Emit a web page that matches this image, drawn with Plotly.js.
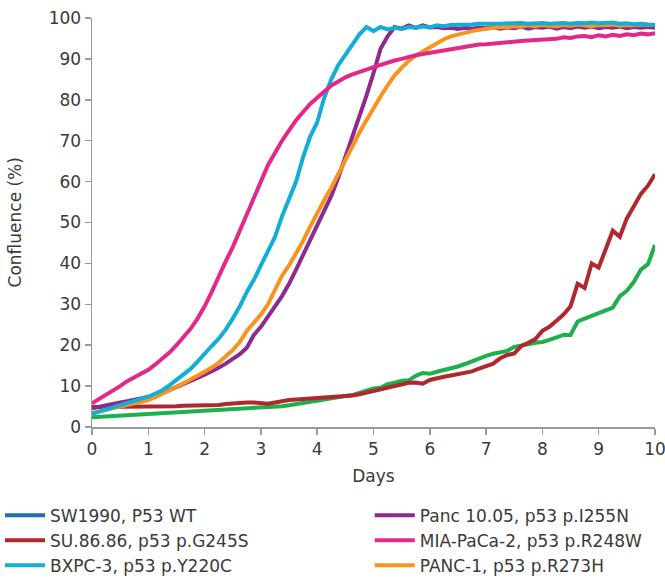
<!DOCTYPE html>
<html>
<head>
<meta charset="utf-8">
<script src="https://cdn.plot.ly/plotly-3.0.1.min.js"></script>
<style>html,body{margin:0;padding:0;background:#fff;}#chart{width:665px;height:579px;}</style>
</head>
<body>
<div id="chart"></div>
<script>
// Days: 0 to 10 in steps of 0.125 (81 readings)
const days = [];
for (let i = 0; i <= 80; i++) days.push(i / 8);

const seriesNames = [
  "SW1990, P53 WT",
  "SU.86.86, p53 p.G245S",
  "BXPC-3, p53 p.Y220C",
  "Panc 10.05, p53 p.I255N",
  "MIA-PaCa-2, p53 p.R248W",
  "PANC-1, p53 p.R273H"
];
const xTitle = "Days";
const yTitle = "Confluence (%)";

const sw1990 = [2.4,2.5,2.6,2.7,2.8,2.8,2.9,3.0,3.0,3.1,3.2,3.3,3.4,3.5,3.6,3.7,3.8,3.9,4.0,4.1,4.3,4.4,4.6,4.7,4.8,4.9,5.0,5.1,5.3,5.6,5.9,6.2,6.6,6.9,7.2,7.4,7.6,7.8,8.3,9.0,9.4,9.6,10.5,10.8,11.3,11.4,12.5,13.2,13.0,13.5,13.9,14.3,14.8,15.4,16.1,16.8,17.4,17.9,18.2,18.6,19.6,19.8,20.2,20.6,20.8,21.3,21.8,22.5,22.5,25.8,26.5,27.2,27.8,28.4,29.2,32.0,33.3,35.5,38.5,39.8,44.5];

const su8686 = [4.9,4.9,5.0,5.0,5.0,5.0,5.0,5.0,5.0,5.0,5.0,5.1,5.1,5.2,5.2,5.2,5.3,5.3,5.4,5.6,5.8,5.9,6.0,6.0,5.9,5.7,6.0,6.4,6.6,6.7,6.8,6.9,7.0,7.1,7.3,7.4,7.5,7.7,8.0,8.4,8.8,9.1,9.5,9.9,10.3,10.8,10.9,10.6,11.5,12.0,12.3,12.6,13.0,13.3,13.6,14.3,15.0,15.5,16.8,17.6,18.0,19.8,20.6,21.5,23.5,24.5,26.0,27.5,29.5,35.0,34.0,40.0,39.0,43.5,48.0,46.5,51.0,54.0,57.0,59.0,61.8];

const bxpc3 = [3.2,3.7,4.2,4.7,5.2,5.8,6.3,6.8,7.4,8.2,9.0,10.2,11.5,12.8,14.2,16.0,18.0,19.8,21.6,23.8,26.5,29.5,33.0,36.0,39.5,43.0,46.5,51.5,56.0,60.0,66.0,71.0,74.5,80.5,85.0,88.5,91.0,93.5,96.0,97.8,96.8,97.8,97.2,97.6,97.3,97.8,97.6,97.9,97.7,98.2,98.0,98.3,98.3,98.5,98.4,98.6,98.5,98.6,98.6,98.7,98.6,98.8,98.6,98.7,98.8,98.6,98.7,98.8,98.6,98.8,98.7,98.9,98.7,98.8,98.9,98.6,98.7,98.5,98.6,98.4,98.3];

const panc1005 = [4.6,5.0,5.3,5.7,6.0,6.3,6.6,6.9,7.2,7.7,8.3,9.0,9.8,10.6,11.3,12.0,12.8,13.6,14.5,15.5,16.6,17.8,19.4,22.5,24.5,26.8,29.5,32.0,35.0,38.5,42.0,46.0,49.5,52.5,56.5,61.0,66.0,70.5,76.0,81.0,86.5,92.5,95.5,97.8,97.4,98.2,97.6,98.2,97.7,97.8,97.5,97.6,97.3,97.6,97.4,97.6,97.5,97.8,97.4,97.7,97.5,97.9,97.4,97.8,97.6,97.9,97.4,97.8,97.5,97.9,97.6,97.9,97.5,97.8,97.6,97.9,97.5,97.8,97.6,97.8,97.6];

const miaPaCa2 = [5.8,6.8,7.8,8.8,10.0,11.2,12.2,13.1,14.0,15.3,16.6,18.2,20.0,22.0,24.0,26.5,29.5,33.0,37.0,40.5,44.0,48.0,52.0,56.5,60.5,64.0,67.0,70.0,72.5,75.0,77.0,79.0,80.5,82.0,83.5,84.5,85.5,86.2,86.9,87.4,88.0,88.6,89.2,89.6,90.0,90.5,90.9,91.2,91.5,91.8,92.1,92.3,92.6,93.0,93.1,93.5,93.6,93.8,94.0,94.0,94.3,94.4,94.5,94.6,94.9,95.0,94.9,95.3,95.1,95.5,95.6,95.3,95.8,95.5,95.9,95.6,96.0,95.8,96.2,96.0,96.3];

const panc1 = [3.4,3.8,4.2,4.6,5.0,5.4,5.8,6.2,6.6,7.3,8.1,8.9,9.8,10.7,11.6,12.5,13.4,14.5,15.7,17.2,18.8,20.8,23.5,25.5,27.5,30.0,33.5,37.0,39.5,42.5,45.5,49.0,52.5,55.5,58.5,62.0,65.5,68.5,72.0,75.0,78.0,80.8,83.5,86.0,87.8,89.5,90.8,91.8,92.8,93.6,94.8,95.5,96.0,96.5,96.8,97.1,97.3,97.6,97.8,97.7,98.0,97.9,98.2,98.0,98.3,98.1,98.0,98.3,98.1,98.4,98.2,98.0,98.3,98.2,98.4,98.1,98.3,98.2,98.4,98.2,98.2];

const values = [sw1990, su8686, bxpc3, panc1005, miaPaCa2, panc1];
const plotColors = ["#1db14b","#b0282e","#13aed8","#8e2a8e","#e3288a","#f7941d"];
const legendColors = ["#1f6fb0","#b0282e","#13aed8","#8e2a8e","#e3288a","#f7941d"];
const legendIds = ["legend","legend","legend","legend2","legend2","legend2"];
const drawOrder = [0, 1, 3, 5, 2, 4]; // which curve lies on top of which

const traces = [];
drawOrder.forEach(i => {
  traces.push({
    x: days, y: values[i], type: "scatter", mode: "lines",
    name: seriesNames[i],
    line: {color: plotColors[i], width: 4},
    showlegend: i !== 0,
    legend: legendIds[i],
    legendrank: i + 1
  });
});
// legend entry for SW1990 (its legend swatch colour differs from the plotted line)
traces.push({
  x: [null], y: [null], type: "scatter", mode: "lines",
  name: seriesNames[0],
  line: {color: legendColors[0], width: 4},
  showlegend: true, legend: "legend", legendrank: 0, hoverinfo: "skip"
});

const font = {family: "DejaVu Sans, Noto Sans, sans-serif", size: 17, color: "#3a3a3a"};

const legendBase = {
  orientation: "v",
  xref: "container", yref: "container",
  yanchor: "top", xanchor: "left",
  font: font, itemwidth: 40, tracegroupgap: 0,
  traceorder: "normal", bgcolor: "rgba(0,0,0,0)"
};

const layout = {
  width: 665, height: 579,
  margin: {l: 92, r: 10, t: 18, b: 152, autoexpand: false},
  paper_bgcolor: "#fff", plot_bgcolor: "#fff",
  font: font,
  showlegend: true,
  xaxis: {
    range: [0, 10], dtick: 1, tick0: 0,
    showgrid: false, zeroline: false,
    showline: true, linecolor: "#9a9a9a", linewidth: 1.5,
    ticks: "outside", ticklen: 6, tickcolor: "#9a9a9a", tickwidth: 1.5,
    tickfont: font, ticklabeloverflow: "allow",
    title: {text: xTitle, font: font, standoff: 12}
  },
  yaxis: {
    range: [0, 100], dtick: 10, tick0: 0,
    showgrid: false, zeroline: false,
    showline: true, linecolor: "#9a9a9a", linewidth: 1.5,
    ticks: "outside", ticklen: 6, tickcolor: "#9a9a9a", tickwidth: 1.5,
    tickfont: font, ticklabeloverflow: "allow"
  },
  annotations: [{
    text: yTitle, textangle: -90, showarrow: false,
    xref: "paper", yref: "paper", x: -0.1368, y: 0.5,
    xanchor: "center", yanchor: "middle", font: font
  }],
  legend: Object.assign({}, legendBase, {x: 0, y: 0.1406}),
  legend2: Object.assign({}, legendBase, {x: 0.556, y: 0.1406})
};

Plotly.newPlot("chart", traces, layout, {displayModeBar: false, staticPlot: true});
</script>
</body>
</html>
